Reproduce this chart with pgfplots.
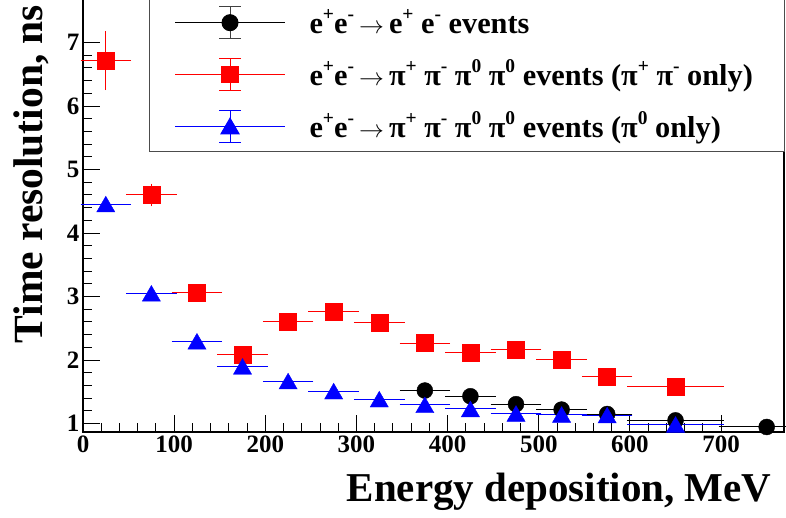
\documentclass[border=0pt]{standalone}
\usepackage{fontspec}
\setmainfont{Liberation Serif}
\usepackage{pgfplots}
\usepackage{pgfplotstable}
\pgfplotsset{compat=1.18}
\newcommand{\su}[1]{\raisebox{0.42em}{\fontsize{19.5}{19.5}\selectfont\bfseries #1}}
\newcommand{\ar}{\,$\rightarrow$\,}

\pgfplotstableread{
x y exp exm ey
375 1.52 25 25 0.05
425 1.43 25 25 0.05
475 1.305 25 25 0.04
525 1.22 25 25 0.04
575 1.15 25 25 0.03
650 1.05 50 50 0.03
750 0.946 19 50 0.03
}\blackdata

\pgfplotstableread{
x y exp exm ey
25 6.715 25 25 0.425
75 4.60 25 25 0.14
125 3.063 25 25 0.08
175 2.09 25 25 0.06
225 2.60 25 25 0.06
275 2.758 25 25 0.06
325 2.595 25 25 0.06
375 2.268 25 25 0.05
425 2.115 25 25 0.05
475 2.17 25 25 0.05
525 2.01 25 25 0.05
575 1.736 25 25 0.05
650 1.58 50 50 0.05
}\reddata

\pgfplotstableread{
x y exp exm ey
25 4.455 25 25 0.04
75 3.05 25 25 0.04
125 2.295 25 25 0.04
175 1.90 25 25 0.04
225 1.668 25 25 0.03
275 1.51 25 25 0.03
325 1.384 25 25 0.03
375 1.294 25 25 0.03
425 1.23 25 25 0.03
475 1.158 25 25 0.03
525 1.142 25 25 0.03
575 1.133 25 25 0.03
650 0.985 50 50 0.03
}\bluedata

\begin{document}
\begin{tikzpicture}
\useasboundingbox (0,0) rectangle (786pt,517pt);
\begin{axis}[
  at={(83pt,85pt)}, anchor=south west,
  scale only axis, width=701pt, height=435pt,
  xmin=0, xmax=769, ymin=0.867, ymax=7.717,
  xtick={0,100,...,700}, ytick={1,2,...,7},
  minor x tick num=4, minor y tick num=4,
  tick align=inside, tick pos=left,
  major tick length=17pt, minor tick length=9pt,
  axis line style={line width=1.2pt},
  every tick/.style={black, line width=1pt},
  /pgf/number format/assume math mode=true,
  tick label style={font=\bfseries\fontsize{25}{25}\selectfont},
  clip=false,
  legend cell align=left,
  legend style={at={(axis description cs:0.0942,0.6446)}, anchor=south west,
    draw=black!70, line width=1pt, fill=white,
    inner xsep=25pt, inner ysep=8pt, row sep=17.7pt, column sep=24pt,
    font=\bfseries\fontsize{30.3}{30.3}\selectfont,
    nodes={inner sep=0pt, text height=28pt, text depth=6pt}},
  error bars/error bar style={line width=1pt},
  error bars/error mark options={line width=1pt, mark size=2.5pt},
]
\addlegendimage{legend image code/.code={
  \draw[black, line width=1pt] (0pt,0pt) -- (110pt,0pt);
  \draw[overlay, black!75, line width=1pt] (55pt,-16pt) -- (55pt,16pt) (44pt,-16pt) -- (66pt,-16pt) (44pt,16pt) -- (66pt,16pt);
  \draw[overlay, black, mark=*, mark size=8pt] plot coordinates {(55pt,0pt)};
}}
\addlegendentry{e\su{+}e\su{-}\ar e\su{+} e\su{-} events}
\addlegendimage{legend image code/.code={
  \draw[red, line width=1pt] (0pt,0pt) -- (110pt,0pt);
  \draw[overlay, red, line width=1pt] (55pt,-16pt) -- (55pt,16pt) (44pt,-16pt) -- (66pt,-16pt) (44pt,16pt) -- (66pt,16pt);
  \draw[overlay, red, mark=square*, mark size=8.3pt] plot coordinates {(55pt,0pt)};
}}
\addlegendentry{e\su{+}e\su{-}\ar π\su{+} π\su{-} π\su{0} π\su{0} events (π\su{+} π\su{-} only)\hspace*{7pt}}
\addlegendimage{legend image code/.code={
  \draw[blue, line width=1pt] (0pt,0pt) -- (110pt,0pt);
  \draw[overlay, blue, line width=1pt] (55pt,-16pt) -- (55pt,16pt) (44pt,-16pt) -- (66pt,-16pt) (44pt,16pt) -- (66pt,16pt);
  \draw[overlay, blue, mark=triangle*, mark size=10.5pt, mark options={yshift=-2.6pt}] plot coordinates {(55pt,0pt)};
}}
\addlegendentry{e\su{+}e\su{-}\ar π\su{+} π\su{-} π\su{0} π\su{0} events (π\su{0} only)}

\addplot[forget plot, only marks, black, mark=*, mark size=8pt,
  error bars/.cd, x dir=both, x explicit, y dir=both, y explicit,
  error bar style={black}]
  table[x=x, y=y, x error plus=exp, x error minus=exm, y error=ey] {\blackdata};
\addplot[forget plot, only marks, red, mark=square*, mark size=8.5pt,
  error bars/.cd, x dir=both, x explicit, y dir=both, y explicit,
  error bar style={red}]
  table[x=x, y=y, x error plus=exp, x error minus=exm, y error=ey] {\reddata};
\addplot[forget plot, only marks, blue, mark=triangle*, mark size=10.5pt,
  mark options={yshift=-2.6pt},
  error bars/.cd, x dir=both, x explicit, y dir=both, y explicit,
  error bar style={blue}]
  table[x=x, y=y, x error plus=exp, x error minus=exm, y error=ey] {\bluedata};
\end{axis}
\node[anchor=base east, font=\bfseries\fontsize{41}{41}\selectfont] at (775pt,15.3pt) {Energy deposition, MeV};
\node[rotate=90, anchor=base west, font=\bfseries\fontsize{41.5}{41.5}\selectfont] at (42pt,170pt) {Time resolution, ns};
\end{tikzpicture}
\end{document}
